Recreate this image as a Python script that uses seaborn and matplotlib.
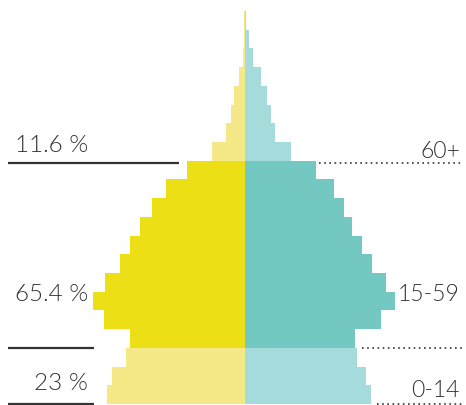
import matplotlib
matplotlib.use("Agg")
import matplotlib.pyplot as plt
import seaborn as sns
import pandas as pd
from matplotlib.lines import Line2D

# ---- data (top to bottom), share of total population in % ----
age_groups = ["100+", "95-99", "90-94", "85-89", "80-84", "75-79", "70-74", "65-69",
              "60-64", "55-59", "50-54", "45-49", "40-44", "35-39", "30-34", "25-29",
              "20-24", "15-19", "10-14", "5-9", "0-4"]
left_values = [0.03, 0.03, 0.06, 0.18, 0.34, 0.43, 0.58, 1.01,
               1.78, 2.42, 2.85, 3.22, 3.53, 3.84, 4.30, 4.66,
               4.33, 3.53, 3.65, 4.08, 4.23]
right_values = [0.03, 0.12, 0.25, 0.49, 0.67, 0.80, 0.92, 1.41,
                2.18, 2.73, 3.04, 3.28, 3.59, 3.90, 4.33, 4.60,
                4.17, 3.37, 3.44, 3.71, 3.87]
bands = ["old"] * 8 + ["work"] * 10 + ["young"] * 3

group_labels = ["60+", "15-59", "0-14"]
share_labels = ["11.6 %", "65.4 %", "23 %"]

left_palette = {"old": "#F5E987", "work": "#EDDF16", "young": "#F5E987"}
right_palette = {"old": "#A6DBDC", "work": "#73C9C1", "young": "#A6DBDC"}

df_left = pd.DataFrame({"age": age_groups, "value": [-v for v in left_values], "band": bands})
df_right = pd.DataFrame({"age": age_groups, "value": right_values, "band": bands})

W, H = 466, 405
fig = plt.figure(figsize=(W / 100, H / 100), dpi=100)
ax = fig.add_axes([0, 0, 1, 1])

for d, pal in ((df_left, left_palette), (df_right, right_palette)):
    sns.barplot(data=d, x="value", y="age", hue="band", palette=pal, order=age_groups,
                orient="h", dodge=False, width=1.0, linewidth=0, saturation=1,
                legend=False, ax=ax)

# pixel geometry: centre at x=245, 32.59 px per unit
scale = 32.59
ax.set_xlim(-245 / scale, (W - 245) / scale)
h = (404 - 11) / 21
ax.set_ylim(20.5 + (H - 404) / h, -0.5 - 11 / h)
ax.axis("off")

def fx(x):
    return x / W

def fy(y):
    return 1 - y / H

txt_col = "#333333"
font = dict(family=["Lato", "DejaVu Sans"], weight=300, color=txt_col)

# left share labels (right aligned)
fig.text(fx(88), fy(152), share_labels[0], ha="right", va="baseline", fontsize=17.5, **font)
fig.text(fx(88), fy(301), share_labels[1], ha="right", va="baseline", fontsize=17.5, **font)
fig.text(fx(88), fy(390), share_labels[2], ha="right", va="baseline", fontsize=17.5, **font)

# right group labels
fig.text(fx(460), fy(158), group_labels[0], ha="right", va="baseline", fontsize=16.5, **font)
fig.text(fx(460), fy(301), group_labels[1], ha="right", va="baseline", fontsize=16.5, **font)
fig.text(fx(460), fy(397), group_labels[2], ha="right", va="baseline", fontsize=16.5, **font)

# solid lines on the left
for (x0, x1, y) in ((8, 179, 163.3), (8, 94, 348.3), (8, 94, 403.5)):
    fig.add_artist(Line2D([fx(x0), fx(x1)], [fy(y), fy(y)], color="#333333", lw=1.6,
                          solid_capstyle="butt"))

# dotted lines on the right
for (x0, x1, y) in ((319, 462, 163.3), (362, 462, 348.3), (377, 462, 403.5)):
    fig.add_artist(Line2D([fx(x0), fx(x1)], [fy(y), fy(y)], color="#333333", lw=1.2,
                          linestyle=(0, (1, 2.1)), dash_capstyle="butt"))

fig.savefig("out.png", dpi=100)
